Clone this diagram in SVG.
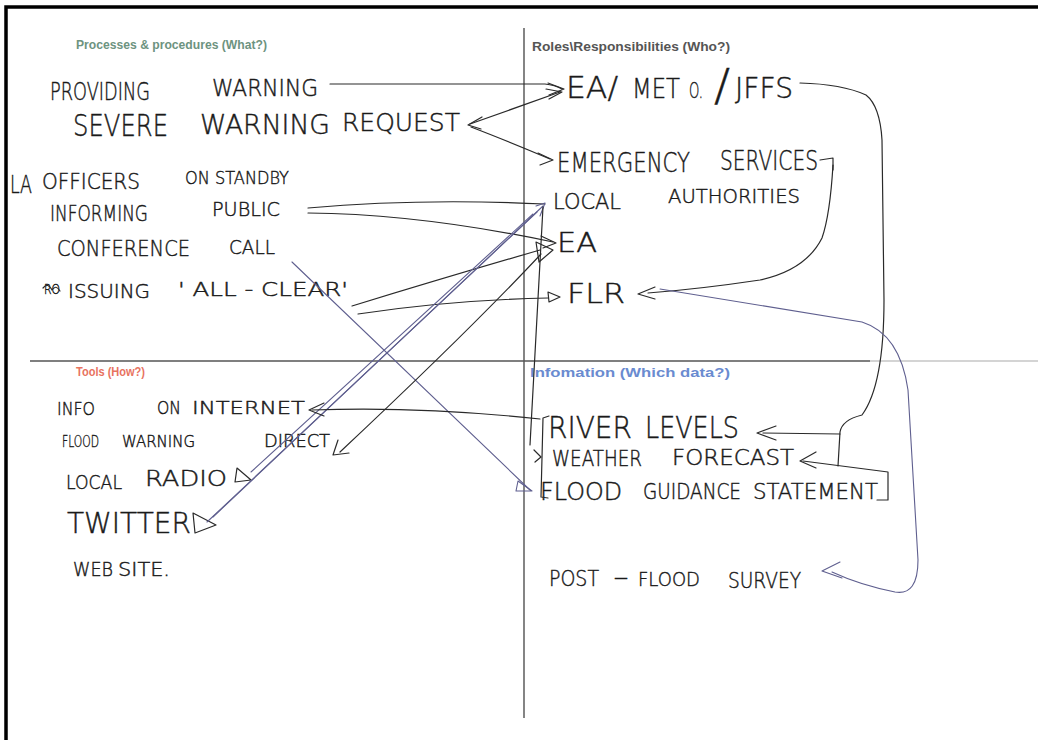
<svg xmlns="http://www.w3.org/2000/svg" width="1038" height="740" viewBox="0 0 1038 740">
  <style>
    .hw { font-family: "DejaVu Sans", "Liberation Sans", sans-serif; font-weight: 200; fill: #1a1a1a; stroke: #1a1a1a; stroke-width: 0.45; }
    .hd { font-family: "Liberation Sans", Arial, sans-serif; font-weight: bold; font-size: 12px; }
    .ln { fill: none; stroke: #2a2a2a; stroke-width: 1.2; stroke-linecap: round; stroke-linejoin: round; }
    .pl { fill: none; stroke: #5f5f8f; stroke-width: 1.1; stroke-linecap: round; stroke-linejoin: round; }
    .frame { fill: none; stroke: #000; stroke-width: 3.5; }
  </style>
  <rect width="1038" height="740" fill="#fff"/>

  <!-- page frame and quadrant dividers -->
  <path class="frame" d="M6 740 V7 H1038"/>
  <line x1="524" y1="28" x2="524" y2="718" stroke="#333" stroke-width="1.2"/>
  <line x1="30" y1="361" x2="870" y2="361" stroke="#555" stroke-width="1.3"/>
  <line x1="870" y1="361" x2="1038" y2="361" stroke="#aaa" stroke-width="1.2"/>

  <!-- quadrant headings -->
  <g id="headings">
    <text class="hd" x="76" y="49" fill="#6d9380" textLength="191" lengthAdjust="spacingAndGlyphs">Processes &amp; procedures (What?)</text>
    <text class="hd" x="532" y="51" fill="#555" textLength="198" lengthAdjust="spacingAndGlyphs">Roles\Responsibilities (Who?)</text>
    <text class="hd" x="76" y="376" fill="#e8735f" textLength="69" lengthAdjust="spacingAndGlyphs">Tools (How?)</text>
    <text class="hd" x="530" y="377" fill="#6a8bd0" textLength="200" lengthAdjust="spacingAndGlyphs">Infomation (Which data?)</text>
  </g>

  <!-- processes -->
  <g id="providing-warning">
    <text class="hw" x="50" y="100" font-size="24" textLength="100" lengthAdjust="spacingAndGlyphs">PROVIDING</text>
    <text class="hw" x="212" y="96" font-size="23" textLength="106" lengthAdjust="spacingAndGlyphs">WARNING</text>
  </g>
  <g id="severe-warning-request">
    <text class="hw" x="73" y="136" font-size="30" textLength="95" lengthAdjust="spacingAndGlyphs">SEVERE</text>
    <text class="hw" x="200" y="134" font-size="27" textLength="130" lengthAdjust="spacingAndGlyphs">WARNING</text>
    <text class="hw" x="342" y="131" font-size="25" textLength="118" lengthAdjust="spacingAndGlyphs">REQUEST</text>
  </g>
  <g id="la-officers">
    <text class="hw" x="10" y="193" font-size="25" textLength="22" lengthAdjust="spacingAndGlyphs">LA</text>
    <text class="hw" x="42" y="189" font-size="21" textLength="98" lengthAdjust="spacingAndGlyphs">OFFICERS</text>
    <text class="hw" x="185" y="184" font-size="18" textLength="104" lengthAdjust="spacingAndGlyphs">ON STANDBY</text>
  </g>
  <g id="informing-public">
    <text class="hw" x="50" y="221" font-size="21" textLength="98" lengthAdjust="spacingAndGlyphs">INFORMING</text>
    <text class="hw" x="212" y="216" font-size="19" textLength="68" lengthAdjust="spacingAndGlyphs">PUBLIC</text>
  </g>
  <g id="conference-call">
    <text class="hw" x="57" y="256" font-size="22" textLength="133" lengthAdjust="spacingAndGlyphs">CONFERENCE</text>
    <text class="hw" x="229" y="254" font-size="19" textLength="46" lengthAdjust="spacingAndGlyphs">CALL</text>
  </g>
  <g id="issuing-all-clear">
    <text class="hw" x="44" y="294" font-size="14" textLength="16" lengthAdjust="spacingAndGlyphs">RO</text>
    <path class="ln" d="M43 288 Q48 282 52 290 Q56 284 60 291" stroke-width="1"/>
    <text class="hw" x="68" y="298" font-size="19" textLength="82" lengthAdjust="spacingAndGlyphs">ISSUING</text>
    <text class="hw" x="178" y="296" font-size="19" textLength="170" lengthAdjust="spacingAndGlyphs">' ALL - CLEAR'</text>
  </g>

  <!-- roles -->
  <g id="ea-met-jffs">
    <text class="hw" x="566" y="98" font-size="30" textLength="52" lengthAdjust="spacingAndGlyphs">EA/</text>
    <text class="hw" x="632" y="98" font-size="27" textLength="48" lengthAdjust="spacingAndGlyphs">MET</text>
    <text class="hw" x="689" y="98" font-size="22" textLength="14" lengthAdjust="spacingAndGlyphs">O.</text>
    <text class="hw" x="714" y="101" font-size="44" textLength="16" lengthAdjust="spacingAndGlyphs">/</text>
    <text class="hw" x="735" y="98" font-size="28" textLength="58" lengthAdjust="spacingAndGlyphs">JFFS</text>
  </g>
  <g id="emergency-services">
    <text class="hw" x="557" y="172" font-size="27" textLength="133" lengthAdjust="spacingAndGlyphs">EMERGENCY</text>
    <text class="hw" x="720" y="170" font-size="27" textLength="98" lengthAdjust="spacingAndGlyphs">SERVICES</text>
  </g>
  <g id="local-authorities">
    <text class="hw" x="553" y="209" font-size="21" textLength="68" lengthAdjust="spacingAndGlyphs">LOCAL</text>
    <text class="hw" x="668" y="203" font-size="19" textLength="132" lengthAdjust="spacingAndGlyphs">AUTHORITIES</text>
  </g>
  <g id="ea">
    <text class="hw" x="557" y="252" font-size="27" textLength="40" lengthAdjust="spacingAndGlyphs">EA</text>
  </g>
  <g id="flr">
    <text class="hw" x="567" y="303" font-size="27" textLength="58" lengthAdjust="spacingAndGlyphs">FLR</text>
  </g>

  <!-- tools -->
  <g id="info-on-internet">
    <text class="hw" x="57" y="415" font-size="18" textLength="38" lengthAdjust="spacingAndGlyphs">INFO</text>
    <text class="hw" x="157" y="414" font-size="18" textLength="24" lengthAdjust="spacingAndGlyphs">ON</text>
    <text class="hw" x="192" y="414" font-size="18" textLength="113" lengthAdjust="spacingAndGlyphs">INTERNET</text>
  </g>
  <g id="flood-warning-direct">
    <text class="hw" x="62" y="447" font-size="16" textLength="37" lengthAdjust="spacingAndGlyphs">FLOOD</text>
    <text class="hw" x="122" y="447" font-size="16" textLength="73" lengthAdjust="spacingAndGlyphs">WARNING</text>
    <text class="hw" x="264" y="447" font-size="17" textLength="66" lengthAdjust="spacingAndGlyphs">DIRECT</text>
  </g>
  <g id="local-radio">
    <text class="hw" x="66" y="489" font-size="19" textLength="56" lengthAdjust="spacingAndGlyphs">LOCAL</text>
    <text class="hw" x="145" y="486" font-size="21" textLength="82" lengthAdjust="spacingAndGlyphs">RADIO</text>
    <path class="ln" d="M237 468 L251 480 L235 482 Z"/>
  </g>
  <g id="twitter">
    <text class="hw" x="67" y="533" font-size="28" textLength="124" lengthAdjust="spacingAndGlyphs">TWITTER</text>
    <path class="ln" d="M193 513 L216 525 L195 533 Z"/>
  </g>
  <g id="web-site">
    <text class="hw" x="73" y="576" font-size="19" textLength="40" lengthAdjust="spacingAndGlyphs">WEB</text>
    <text class="hw" x="118" y="576" font-size="19" textLength="52" lengthAdjust="spacingAndGlyphs">SITE.</text>
  </g>

  <!-- information -->
  <g id="river-levels">
    <text class="hw" x="548" y="438" font-size="31" textLength="84" lengthAdjust="spacingAndGlyphs">RIVER</text>
    <text class="hw" x="645" y="438" font-size="31" textLength="94" lengthAdjust="spacingAndGlyphs">LEVELS</text>
  </g>
  <g id="weather-forecast">
    <text class="hw" x="552" y="466" font-size="21" textLength="90" lengthAdjust="spacingAndGlyphs">WEATHER</text>
    <text class="hw" x="672" y="465" font-size="21" textLength="122" lengthAdjust="spacingAndGlyphs">FORECAST</text>
  </g>
  <g id="flood-guidance-statement">
    <text class="hw" x="540" y="500" font-size="24" textLength="82" lengthAdjust="spacingAndGlyphs">FLOOD</text>
    <text class="hw" x="643" y="499" font-size="21" textLength="98" lengthAdjust="spacingAndGlyphs">GUIDANCE</text>
    <text class="hw" x="753" y="499" font-size="21" textLength="125" lengthAdjust="spacingAndGlyphs">STATEMENT</text>
  </g>
  <g id="post-flood-survey">
    <text class="hw" x="549" y="586" font-size="21" textLength="50" lengthAdjust="spacingAndGlyphs">POST</text>
    <text class="hw" x="613" y="584" font-size="21" textLength="16" lengthAdjust="spacingAndGlyphs">-</text>
    <text class="hw" x="638" y="586" font-size="19" textLength="62" lengthAdjust="spacingAndGlyphs">FLOOD</text>
    <text class="hw" x="728" y="588" font-size="21" textLength="73" lengthAdjust="spacingAndGlyphs">SURVEY</text>
  </g>

  <!-- connectors -->
  <g id="connectors">
    <!-- providing warning -> EA / Met O / JFFS -->
    <path class="ln" d="M330 84 L545 84 Q555 85 562 89"/>
    <path class="ln" d="M548 83 L564 89 L549 95"/>
    <!-- severe warning request <-> EA / Met O / JFFS -->
    <path class="ln" d="M470 124 L560 92"/>
    <path class="ln" d="M482 117 L468 125 L481 129"/>
    <path class="ln" d="M546 89 L562 92 L549 99"/>
    <!-- severe warning request -> emergency services -->
    <path class="ln" d="M471 127 Q505 140 550 159"/>
    <path class="ln" d="M538 153 L553 160 L540 165"/>
    <!-- emergency services -> FLR -->
    <path class="ln" d="M820 160 L833 158 L833 170"/>
    <path class="ln" d="M833 165 Q830 215 822 238 Q806 270 760 280 Q700 289 648 293"/>
    <path class="ln" d="M655 287 L638 294 L655 299"/>
    <!-- EA / Met O / JFFS -> river levels, weather forecast -->
    <path class="ln" d="M800 83 Q842 84 866 95 Q880 106 882 140 L884 300 Q884 385 862 415 Q842 420 840 432 L838 466"/>
    <path class="ln" d="M763 433 L840 434"/>
    <path class="ln" d="M776 426 L757 433 L776 440"/>
    <path class="ln" d="M803 461 L888 472 L888 500 L877 500"/>
    <path class="ln" d="M816 452 L800 461 L816 468"/>
    <!-- FLR -> post-flood survey -->
    <path class="pl" d="M660 289 Q760 305 862 322 Q900 334 908 390 L918 560 Q918 596 895 592 Q860 585 832 572"/>
    <path class="pl" d="M840 562 L822 571 L842 578"/>
    <!-- informing public -> local authorities, EA -->
    <path class="ln" d="M308 208 Q420 198 545 204"/>
    <path class="ln" d="M308 213 Q420 214 553 242"/>
    <path class="ln" d="M541 236 L556 243 L543 248"/>
    <!-- conference call -> flood guidance statement -->
    <path class="pl" d="M292 262 L530 490"/>
    <path class="pl" d="M518 481 L532 491 L516 491 Z"/>
    <!-- issuing all-clear -> EA, FLR -->
    <path class="ln" d="M352 306 Q450 276 540 250"/>
    <path class="ln" d="M536 242 L553 250 L539 262 Z"/>
    <path class="ln" d="M358 314 Q450 300 548 298"/>
    <path class="ln" d="M548 292 L560 297 L549 302 Z"/>
    <!-- twitter, local radio -> local authorities -->
    <path class="pl" d="M213 517 L543 206"/>
    <path class="pl" d="M207 522 L537 212"/>
    <path class="pl" d="M251 472 L533 214"/>
    <path class="pl" d="M536 206 L545 203 L540 216"/>
    <!-- EA -> flood warning direct -->
    <path class="ln" d="M541 254 Q470 330 340 452"/>
    <path class="ln" d="M338 440 L333 455 L349 453"/>
    <!-- river levels -> info on internet -->
    <path class="ln" d="M540 419 Q420 406 312 410"/>
    <path class="ln" d="M324 403 L309 410 L324 416"/>
    <!-- local authorities down to the data column -->
    <path class="ln" d="M543 207 L530 445"/>
    <!-- bracket grouping river levels, weather forecast, flood guidance -->
    <path class="ln" d="M549 416 L543 418 L541 497 L548 498"/>
    <path class="ln" d="M534 450 L541 457 L535 462"/>
  </g>
</svg>
